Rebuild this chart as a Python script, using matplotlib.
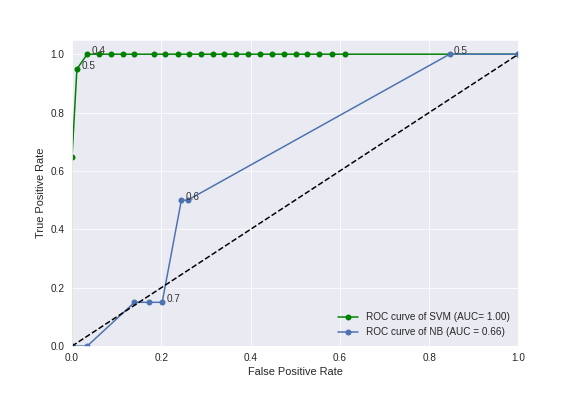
import numpy as np
import matplotlib
matplotlib.use('Agg')
import matplotlib.pyplot as plt
import seaborn as sns

# ROC points
svm_fpr = [0.0, 0.0, 0.011, 0.034, 0.061, 0.087, 0.115, 0.140, 0.183, 0.209,
           0.237, 0.262, 0.288, 0.316, 0.341, 0.368, 0.395, 0.422, 0.447,
           0.474, 0.501, 0.526, 0.553, 0.582, 0.612, 1.0]
svm_tpr = [0.0, 0.647, 0.949] + [1.0] * 23

nb_fpr = [0.0, 0.034, 0.140, 0.172, 0.202, 0.245, 0.259, 0.846, 1.0]
nb_tpr = [0.0, 0.0, 0.15, 0.15, 0.15, 0.5, 0.5, 1.0, 1.0]

# threshold labels (index into the point lists)
svm_thr_idx = [2, 3]
svm_thr_txt = ['0.5', '0.4']
nb_thr_idx = [4, 5, 7]
nb_thr_txt = ['0.7', '0.6', '0.5']

sns.set_style('darkgrid')
plt.rcParams['font.family'] = ['Liberation Sans', 'DejaVu Sans']
plt.rcParams['xtick.major.pad'] = 3
plt.rcParams['ytick.major.pad'] = 4

fig = plt.figure(figsize=(8, 5.5), dpi=72)
plt.subplots_adjust(left=0.125, right=0.9, bottom=0.126, top=0.9)

plt.plot(svm_fpr, svm_tpr, 'o-', color='g', lw=1.5, ms=6, mew=0,
         label='ROC curve of SVM (AUC= 1.00)')
for i, t in zip(svm_thr_idx, svm_thr_txt):
    plt.text(svm_fpr[i] + 0.01, svm_tpr[i], t, fontsize=10, color='#333333')

plt.plot(nb_fpr, nb_tpr, 'o-', color='#4C72B0', lw=1.5, ms=6, mew=0,
         label='ROC curve of NB (AUC = 0.66)')
for i, t in zip(nb_thr_idx, nb_thr_txt):
    plt.text(nb_fpr[i] + 0.01, nb_tpr[i], t, fontsize=10, color='#333333')

plt.plot([0, 1], [0, 1], 'k--', lw=1.5)

plt.xlim(0.0, 1.0)
plt.ylim(0.0, 1.05)
plt.xlabel('False Positive Rate', fontsize=11)
plt.ylabel('True Positive Rate', fontsize=11)
plt.xticks(fontsize=10)
plt.yticks(fontsize=10)
plt.legend(loc='lower right', fontsize=10, frameon=False)

plt.savefig('out.png', dpi=72)
